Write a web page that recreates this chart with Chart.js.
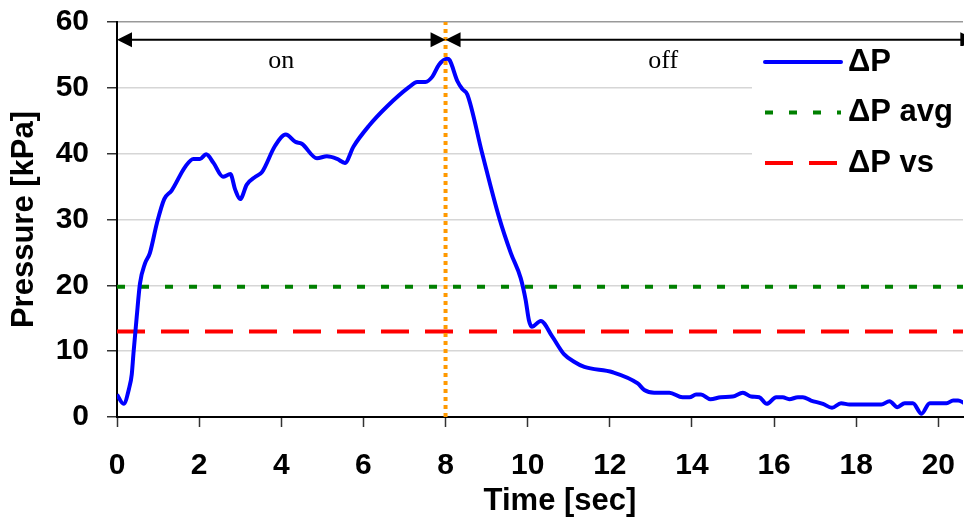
<!DOCTYPE html>
<html>
<head>
<meta charset="utf-8">
<script src="https://cdn.jsdelivr.net/npm/chart.js@4.4.1/dist/chart.umd.min.js"></script>
<style>
  html, body { margin: 0; padding: 0; background: #fff; overflow: hidden; }
</style>
</head>
<body>
<canvas id="pressureChart" width="964" height="519"></canvas>
<script>
// values
const timeSec = [0.00, 0.16, 0.30, 0.36, 0.40, 0.48, 0.56, 0.68, 0.80, 0.97, 1.15, 1.33, 1.66, 1.86, 2.02, 2.17,
  2.35, 2.58, 2.76, 2.88, 3.00, 3.16, 3.37, 3.53, 3.85, 4.11, 4.34, 4.50, 4.87, 5.11, 5.36, 5.55, 5.76, 6.13,
  6.58, 7.11, 7.31, 7.51, 7.68, 7.84, 8.04, 8.10, 8.29, 8.41, 8.53, 8.89, 9.30, 9.59, 9.83, 9.95, 10.03, 10.10,
  10.32, 10.60, 10.89, 11.13, 11.38, 12.07, 12.68, 12.84, 13.08, 13.45, 13.77, 13.94, 14.10, 14.22, 14.45, 14.70,
  14.99, 15.24, 15.44, 15.64, 15.82, 16.05, 16.21, 16.37, 16.58, 16.70, 16.90, 17.19, 17.41, 17.63, 17.84, 18.61,
  18.81, 19.00, 19.18, 19.38, 19.59, 19.79, 20.20, 20.36, 20.48, 20.64];
const deltaP = [3.4, 2.0, 4.5, 6.5, 9.6, 15.2, 20.3, 23.3, 24.9, 29.4, 33.1, 34.4, 38.0, 39.2, 39.2, 39.9,
  38.6, 36.5, 36.9, 34.5, 33.1, 35.3, 36.5, 37.2, 41.2, 42.9, 41.8, 41.5, 39.3, 39.6, 39.2, 38.6, 41.1, 44.2,
  47.2, 50.1, 50.9, 50.9, 51.7, 53.5, 54.4, 54.2, 51.0, 49.8, 49.0, 40.1, 30.4, 24.9, 21.1, 17.8, 14.7, 13.7,
  14.6, 12.2, 9.5, 8.4, 7.6, 6.8, 5.1, 4.1, 3.7, 3.7, 3.0, 3.0, 3.4, 3.4, 2.7, 3.0,
  3.1, 3.7, 3.1, 3.0, 2.0, 3.0, 3.0, 2.7, 3.0, 3.0, 2.5, 2.0, 1.4, 2.1, 1.9, 1.9,
  2.4, 1.5, 2.1, 2.1, 0.5, 2.1, 2.1, 2.5, 2.5, 2.1];
const avgPressure = 19.8;
const vsPressure = 13.0;
const switchTime = 8;
const seriesLabels = ['ΔP', 'ΔP avg', 'ΔP vs'];

const timeMin = 0;
const timeMax = 20.6;
const pressureMin = 0;
const pressureMax = 60;

// on / off arrows
const phaseLabels = ['on', 'off'];
const phaseStart = [0, 8];
const phaseEnd = [8, 20.9];
const phaseLabelX = [4, 13.3];
const arrowLevel = 57.3;
const phaseLabelLevel = 54;

const FONT = "'Liberation Sans', Arial, sans-serif";

function drawHead(ctx, tipX, y, dir) {
  ctx.beginPath();
  ctx.moveTo(tipX, y);
  ctx.lineTo(tipX - dir * 15, y - 7.5);
  ctx.lineTo(tipX - dir * 15, y + 7.5);
  ctx.closePath();
  ctx.fill();
}

const extras = {
  id: 'extras',
  afterDraw(chart) {
    const { ctx, chartArea: area, scales: { x, y } } = chart;
    ctx.save();

    // arrows + on/off text
    const ay = y.getPixelForValue(arrowLevel);
    ctx.strokeStyle = '#000';
    ctx.fillStyle = '#000';
    ctx.lineWidth = 2;
    phaseLabels.forEach((txt, i) => {
      const x0 = x.getPixelForValue(phaseStart[i]);
      const x1 = x.getPixelForValue(phaseEnd[i]);
      ctx.beginPath();
      ctx.moveTo(x0 + 4, ay);
      ctx.lineTo(x1 - 4, ay);
      ctx.stroke();
      drawHead(ctx, x0, ay, -1);
      drawHead(ctx, x1, ay, 1);
      ctx.font = "26px 'Liberation Serif', 'Times New Roman', serif";
      ctx.textAlign = 'center';
      ctx.textBaseline = 'middle';
      ctx.fillText(txt, x.getPixelForValue(phaseLabelX[i]), y.getPixelForValue(phaseLabelLevel));
    });

    // legend box
    const lx = area.right - 211;
    const ly = area.top + 24;
    ctx.fillStyle = '#fff';
    ctx.fillRect(lx, ly, 212, 140);
    chart.data.datasets.slice(0, 3).forEach((ds, i) => {
      const rowY = ly + 16 + i * 50.5;
      ctx.beginPath();
      ctx.setLineDash(ds.borderDash || []);
      ctx.lineCap = i === 0 ? 'round' : 'butt';
      ctx.strokeStyle = ds.borderColor;
      ctx.lineWidth = ds.borderWidth;
      ctx.moveTo(lx + 13, rowY);
      ctx.lineTo(lx + 89, rowY);
      ctx.stroke();
      ctx.setLineDash([]);
      ctx.fillStyle = '#000';
      ctx.font = 'bold 31px ' + FONT;
      ctx.textAlign = 'left';
      ctx.textBaseline = 'middle';
      ctx.fillText(ds.label, lx + 96, rowY);
    });

    // x axis title
    ctx.font = 'bold 31px ' + FONT;
    ctx.textAlign = 'center';
    ctx.textBaseline = 'middle';
    ctx.fillStyle = '#000';
    ctx.fillText('Time [sec]', (area.left + area.right) / 2 + 20, 501);

    ctx.restore();
  }
};

new Chart(document.getElementById('pressureChart'), {
  type: 'scatter',
  data: {
    datasets: [
      {
        label: seriesLabels[0],
        data: timeSec.map((t, i) => ({ x: t, y: deltaP[i] })),
        showLine: true,
        borderColor: '#0000ff',
        borderWidth: 4,
        pointRadius: 0,
        cubicInterpolationMode: 'monotone',
        order: 1
      },
      {
        label: seriesLabels[1],
        data: [{ x: timeMin, y: avgPressure }, { x: timeMax, y: avgPressure }],
        showLine: true,
        borderColor: '#008000',
        borderWidth: 4,
        borderDash: [8, 16],
        borderCapStyle: 'butt',
        pointRadius: 0,
        order: 2
      },
      {
        label: seriesLabels[2],
        data: [{ x: timeMin, y: vsPressure }, { x: timeMax, y: vsPressure }],
        showLine: true,
        borderColor: '#ff0000',
        borderWidth: 4,
        borderDash: [28, 16],
        borderCapStyle: 'butt',
        pointRadius: 0,
        order: 2
      },
      {
        label: 'switch',
        data: [{ x: switchTime, y: pressureMin }, { x: switchTime, y: pressureMax }],
        showLine: true,
        borderColor: '#ff9900',
        borderWidth: 4,
        borderDash: [4, 4],
        borderCapStyle: 'butt',
        pointRadius: 0,
        order: 0
      }
    ]
  },
  options: {
    responsive: false,
    animation: false,
    layout: { padding: { top: 22, right: 1, left: 0, bottom: 0 } },
    plugins: {
      legend: { display: false },
      tooltip: { enabled: false }
    },
    scales: {
      x: {
        type: 'linear',
        min: timeMin,
        max: timeMax,
        afterFit: s => { s.height = 102; s.paddingLeft = 0; s.paddingRight = 0; },
        border: { color: '#000', width: 2 },
        grid: { drawOnChartArea: false, drawTicks: true, tickLength: 10, tickColor: '#333', tickWidth: 1.5 },
        ticks: {
          stepSize: 2,
          includeBounds: false,
          maxRotation: 0,
          padding: 21,
          color: '#000',
          font: { family: FONT, size: 30, weight: 'bold' }
        }
      },
      y: {
        min: pressureMin,
        max: pressureMax,
        afterFit: s => { s.width = 117; s.paddingTop = 0; s.paddingBottom = 0; },
        border: { color: '#000', width: 2 },
        grid: {
          color: c => c.tick.value === pressureMax ? '#999' : '#d6d6d6',
          lineWidth: 1.5,
          tickLength: 10,
          tickColor: '#333',
          tickWidth: 1.5
        },
        ticks: {
          stepSize: 10,
          padding: 18,
          color: '#000',
          font: { family: FONT, size: 30, weight: 'bold' }
        },
        title: {
          display: true,
          text: 'Pressure [kPa]',
          color: '#000',
          padding: { top: 6, bottom: 0 },
          font: { family: FONT, size: 31, weight: 'bold' }
        }
      }
    }
  },
  plugins: [extras]
});
</script>
</body>
</html>
